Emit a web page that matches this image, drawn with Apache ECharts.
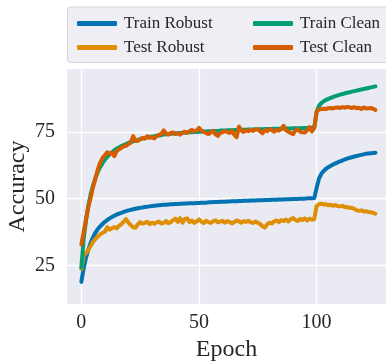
<!DOCTYPE html>
<html>
<head>
<meta charset="utf-8">
<script src="https://cdn.jsdelivr.net/npm/echarts@6/dist/echarts.min.js"></script>
<style>
html,body{margin:0;padding:0;background:#fff;}
#chart{width:386px;height:361px;}
</style>
</head>
<body>
<div id="chart"></div>
<script>
// Epochs 0..125
const trainRobust = [
18.8,24.0,28.0,31.0,33.5,35.6,37.3,38.6,39.6,40.5,
41.3,42.0,42.6,43.1,43.6,44.0,44.4,44.7,45.0,45.3,
45.6,45.8,46.0,46.2,46.4,46.6,46.7,46.9,47.0,47.1,
47.2,47.3,47.4,47.5,47.6,47.7,47.7,47.8,47.9,47.9,
48.0,48.0,48.1,48.1,48.2,48.2,48.3,48.3,48.3,48.4,
48.4,48.5,48.5,48.5,48.6,48.6,48.7,48.7,48.7,48.8,
48.8,48.8,48.9,48.9,49.0,49.0,49.0,49.1,49.1,49.2,
49.2,49.2,49.3,49.3,49.3,49.4,49.4,49.4,49.5,49.5,
49.5,49.6,49.6,49.6,49.7,49.7,49.7,49.8,49.8,49.8,
49.9,49.9,49.9,50.0,50.0,50.0,50.1,50.1,50.1,50.2,
54.0,57.5,59.3,60.4,61.2,61.8,62.3,62.8,63.2,63.6,
64.0,64.3,64.7,65.0,65.3,65.5,65.8,66.0,66.2,66.4,
66.6,66.8,66.9,67.0,67.1,67.2];
const testRobust = [
23.6,28.8,29.6,30.8,32.3,33.8,34.9,35.8,36.6,37.2,
37.6,39.3,38.4,38.9,39.3,38.9,39.8,40.4,41.4,42.3,
41.0,40.1,39.3,39.1,40.3,41.2,40.6,40.9,41.3,40.5,
41.0,40.6,41.1,41.4,40.7,40.9,41.6,40.8,41.2,41.9,
42.5,41.3,42.7,41.0,42.4,42.6,41.2,41.8,40.9,41.5,
42.2,41.4,40.8,41.7,41.2,40.9,41.5,41.9,41.1,41.4,
41.7,41.0,41.6,41.3,40.7,41.2,41.8,41.5,41.0,41.6,
41.3,41.7,41.1,40.9,41.4,41.0,40.5,39.6,39.2,40.4,
41.0,40.7,41.5,41.8,41.2,42.0,41.6,42.2,41.5,42.3,
42.7,42.0,41.6,42.4,42.0,42.6,41.8,42.5,42.1,42.3,
47.2,47.9,48.1,47.8,47.9,47.5,47.7,47.3,47.6,47.2,
47.1,47.3,46.8,46.9,46.5,46.6,46.2,45.6,45.4,45.6,
45.2,45.3,45.0,44.9,44.7,44.4];
const trainClean = [
24.2,35.0,42.0,47.5,51.8,55.0,57.8,60.0,61.8,63.3,
64.6,65.7,66.6,67.4,68.1,68.7,69.2,69.7,70.1,70.5,
70.9,71.2,71.5,71.8,72.0,72.3,72.5,72.7,72.9,73.1,
73.3,73.4,73.6,73.7,73.8,74.0,74.1,74.2,74.3,74.4,
74.5,74.5,74.6,74.7,74.7,74.8,74.9,74.9,75.0,75.0,
75.1,75.1,75.2,75.2,75.3,75.3,75.3,75.4,75.4,75.5,
75.5,75.5,75.6,75.6,75.6,75.7,75.7,75.7,75.8,75.8,
75.8,75.9,75.9,75.9,76.0,76.0,76.0,76.0,76.1,76.1,
76.1,76.1,76.2,76.2,76.2,76.2,76.3,76.3,76.3,76.3,
76.4,76.4,76.4,76.4,76.5,76.5,76.5,76.5,76.6,76.6,
82.5,84.8,85.8,86.5,87.0,87.4,87.8,88.1,88.4,88.7,
89.0,89.2,89.5,89.7,89.9,90.1,90.3,90.5,90.7,90.9,
91.1,91.3,91.5,91.7,91.9,92.1];
const testClean = [
32.8,37.5,42.3,47.0,50.5,54.5,57.5,61.0,63.5,65.2,
66.3,67.4,66.8,67.2,65.9,67.8,68.5,69.0,69.6,69.8,
70.4,71.0,73.4,71.8,71.6,72.3,72.8,72.5,73.4,72.8,
73.0,72.6,73.5,73.9,74.3,75.6,74.4,74.0,74.6,74.8,
74.2,74.5,74.0,74.7,75.1,74.6,75.3,75.8,75.2,75.6,
76.5,75.6,75.0,74.6,74.2,74.8,75.4,74.1,73.5,74.6,
74.9,75.3,75.0,74.6,75.4,74.0,73.0,77.0,75.5,75.0,
75.6,75.3,75.8,75.4,75.9,76.0,75.2,74.5,75.7,75.3,
76.1,75.6,75.1,75.8,75.5,76.2,77.3,75.6,75.1,74.6,
74.2,75.5,76.0,75.1,74.9,74.8,75.6,76.8,75.2,76.5,
82.6,83.4,83.6,83.7,83.6,83.9,84.0,83.8,84.1,84.2,
84.0,84.3,84.1,84.4,84.2,84.0,84.3,83.9,84.1,83.6,
84.2,83.8,83.9,84.0,83.7,83.3];
const xTicks = [0, 50, 100];
const yTicks = [25, 50, 75];
const seriesNames = ['Train Robust', 'Test Robust', 'Train Clean', 'Test Clean'];
const seriesColors = ['#0173B2', '#DE8F05', '#029E73', '#D55E00'];
const seriesValues = [trainRobust, testRobust, trainClean, testClean];

const FONT = '"Liberation Serif", "Times New Roman", serif';
const chart = echarts.init(document.getElementById('chart'), null, {renderer: 'canvas'});

const series = seriesNames.map((name, i) => ({
  name: name,
  type: 'line',
  data: seriesValues[i].map((v, e) => [e, v]),
  showSymbol: false,
  symbol: 'none',
  smooth: false,
  lineStyle: {width: 4, color: seriesColors[i], cap: 'round', join: 'round'},
  itemStyle: {color: seriesColors[i]},
  emphasis: {disabled: true},
  z: 2 + i
}));

const legendCommon = {
  orient: 'vertical',
  itemWidth: 40,
  itemHeight: 5,
  itemGap: 7,
  icon: 'roundRect',
  textStyle: {fontFamily: FONT, fontSize: 17, color: '#262626', padding: [0, 0, 0, 2]},
  selectedMode: false
};

chart.setOption({
  animation: false,
  backgroundColor: '#ffffff',
  graphic: [{
    type: 'rect',
    shape: {x: 67.5, y: 7, width: 330, height: 55.5, r: 3},
    style: {fill: '#EEEEF4', stroke: '#D6D6DA', lineWidth: 1},
    z: 0
  }],
  legend: [
    Object.assign({}, legendCommon, {left: 72, top: 10, data: ['Train Robust', 'Test Robust']}),
    Object.assign({}, legendCommon, {left: 248, top: 10, data: ['Train Clean', 'Test Clean']})
  ],
  grid: {left: 67, right: 0, top: 69, bottom: 57, show: true, backgroundColor: '#EAEAF2', borderWidth: 0,
         containLabel: false, outerBoundsMode: 'none'},
  xAxis: {
    type: 'value',
    min: -6.1,
    max: 129.5,
    name: 'Epoch',
    nameLocation: 'middle',
    nameGap: 33,
    nameTextStyle: {fontFamily: FONT, fontSize: 24, color: '#262626'},
    axisLine: {show: false},
    axisTick: {show: false, customValues: xTicks},
    axisLabel: {customValues: xTicks, fontFamily: FONT, fontSize: 20, color: '#262626', margin: 9},
    splitLine: {show: true, lineStyle: {color: '#ffffff', width: 1.3}}
  },
  yAxis: {
    type: 'value',
    min: 10.5,
    max: 98.6,
    name: 'Accuracy',
    nameLocation: 'middle',
    nameGap: 37,
    nameMoveOverlap: false,
    nameTextStyle: {fontFamily: FONT, fontSize: 24, color: '#262626'},
    axisLine: {show: false},
    axisTick: {show: false, customValues: yTicks},
    axisLabel: {customValues: yTicks, fontFamily: FONT, fontSize: 20, color: '#262626', margin: 12},
    splitLine: {show: true, lineStyle: {color: '#ffffff', width: 1.3}}
  },
  series: series
});
</script>
</body>
</html>
